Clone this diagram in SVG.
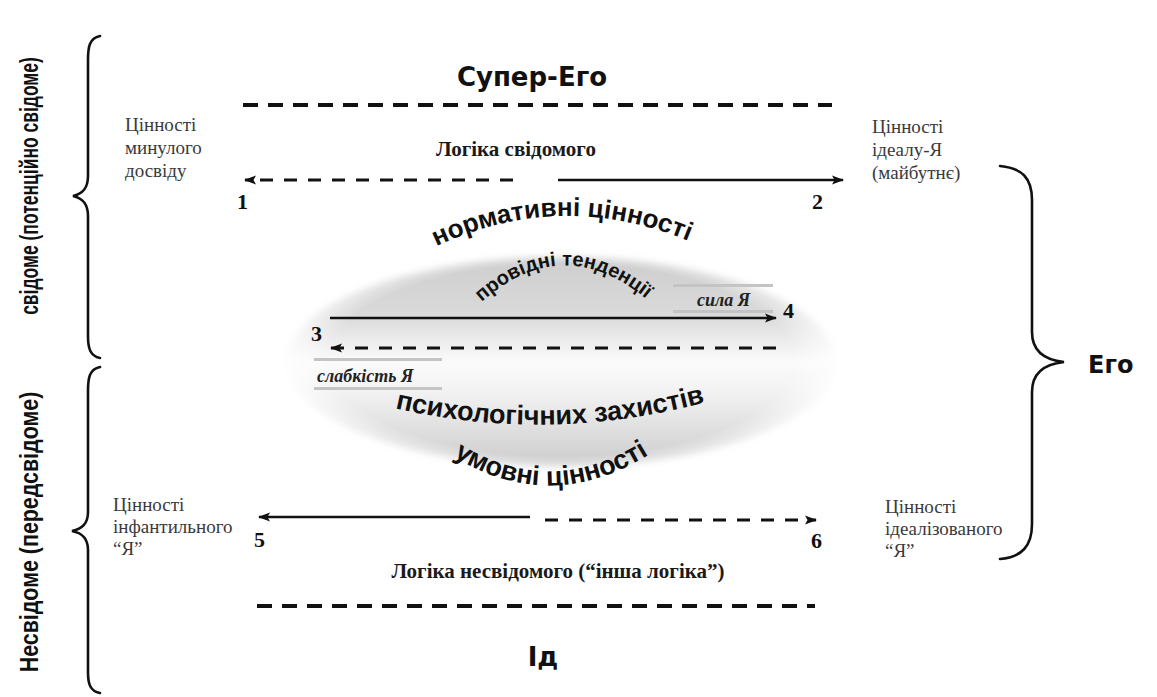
<svg xmlns="http://www.w3.org/2000/svg" width="1157" height="697" viewBox="0 0 1157 697">
  <style>
    .bg { fill: #ffffff; }
    .title { font-family: "DejaVu Sans", "Liberation Sans", sans-serif; font-weight: bold; fill: #111; }
    .note { font-family: "Liberation Serif", "Times New Roman", serif; font-size: 19px; fill: #3a3a3a; }
    .logic { font-family: "Liberation Serif", "Times New Roman", serif; font-size: 21px; font-weight: bold; fill: #1a1a1a; }
    .num { font-family: "Liberation Serif", "Times New Roman", serif; font-size: 22px; font-weight: bold; fill: #111; }
    .arc { font-family: "Liberation Sans", Arial, sans-serif; font-weight: bold; fill: #111; }
    .side { font-family: "Liberation Sans", Arial, sans-serif; font-weight: bold; font-size: 26px; fill: #111; }
    .tag { font-family: "Liberation Serif", "Times New Roman", serif; font-size: 18px; font-style: italic; font-weight: bold; fill: #222; }
    .brace { fill: none; stroke: #111; stroke-width: 2.6; stroke-linecap: round; }
    .border { stroke: #111; stroke-width: 4; stroke-dasharray: 15 10; }
    .solid { stroke: #111; stroke-width: 2.6; fill: none; }
    .dashed { stroke: #111; stroke-width: 3; stroke-dasharray: 13 11; fill: none; }
    .bar { fill: #c4c4c4; }
  </style>
  <defs>
    <marker id="ah" viewBox="0 0 12 10" refX="11" refY="5" markerWidth="12" markerHeight="10" markerUnits="userSpaceOnUse" orient="auto">
      <path d="M0,0.5 L12,5 L0,9.5 L2.5,5 z" fill="#111"/>
    </marker>
    <linearGradient id="ovalShade" x1="0" y1="0" x2="0" y2="1">
      <stop offset="0" stop-color="#cdcdcd"/>
      <stop offset="0.28" stop-color="#dadada"/>
      <stop offset="0.5" stop-color="#fbfbfb"/>
      <stop offset="0.64" stop-color="#f2f2f2"/>
      <stop offset="1" stop-color="#cbcbcb"/>
    </linearGradient>
    <radialGradient id="ovalFade" cx="0.5" cy="0.5" r="0.5">
      <stop offset="0.8" stop-color="#fff"/>
      <stop offset="1" stop-color="#000"/>
    </radialGradient>
    <mask id="ovalMask" maskContentUnits="userSpaceOnUse">
      <ellipse cx="561" cy="360" rx="290" ry="120" fill="url(#ovalFade)"/>
    </mask>
    <filter id="soft" x="-10%" y="-20%" width="120%" height="140%">
      <feGaussianBlur stdDeviation="3.5"/>
    </filter>
    <path id="arcNorm" d="M 425 252 Q 560 183 700 246"/>
    <path id="arcLead" d="M 468 315 Q 562 218 660 311"/>
    <path id="arcDef" d="M 390 407 Q 550 445 710 401"/>
    <path id="arcCond" d="M 436 445 Q 550 527 666 443"/>
  </defs>

  <rect class="bg" x="0" y="0" width="1157" height="697"/>

  <!-- shaded oval of the Ego zone -->
  <g id="oval">
    <ellipse cx="561" cy="362" rx="276" ry="106" fill="url(#ovalShade)" filter="url(#soft)" mask="url(#ovalMask)"/>
  </g>

  <!-- boundary lines -->
  <g id="boundaries">
    <line class="border" x1="243" y1="105" x2="832" y2="105"/>
    <line class="border" x1="257" y1="606" x2="815" y2="606"/>
  </g>

  <g id="superego">
    <text class="title" x="532" y="86" font-size="26" text-anchor="middle">Супер-Его</text>
  </g>
  <g id="id">
    <text class="title" x="543" y="666" font-size="26" text-anchor="middle">Ід</text>
  </g>
  <g id="ego">
    <text class="title" x="1088" y="373" font-size="24">Его</text>
  </g>

  <!-- braces -->
  <g id="braces">
    <path class="brace" d="M 100 36 C 89 38, 88 48, 88 60 L 88 176 C 88 189, 82 194, 73 196 C 82 198, 88 203, 88 216 L 88 336 C 88 348, 90 356, 100 358"/>
    <path class="brace" d="M 100 367 C 89 369, 88 379, 88 391 L 88 512 C 88 524, 82 529, 72 531 C 82 533, 88 538, 88 550 L 88 672 C 88 684, 90 691, 100 693"/>
    <path class="brace" d="M 1000 166 C 1022 168, 1032 178, 1032 200 L 1032 332 C 1032 352, 1045 360, 1064 362 C 1045 364, 1032 372, 1032 392 L 1032 524 C 1032 546, 1022 557, 1000 559"/>
  </g>

  <!-- condensed vertical labels -->
  <g id="conscious-label">
    <text class="side" transform="translate(38,186) rotate(-90) scale(0.68,1)" text-anchor="middle" textLength="379" lengthAdjust="spacingAndGlyphs">свідоме (потенційно свідоме)</text>
  </g>
  <g id="unconscious-label">
    <text class="side" transform="translate(38,532) rotate(-90) scale(0.84,1)" text-anchor="middle" textLength="334" lengthAdjust="spacingAndGlyphs">Несвідоме (передсвідоме)</text>
  </g>

  <!-- value notes at the arrow ends -->
  <g id="past-values">
    <text class="note" x="125" y="131">Цінності</text>
    <text class="note" x="125" y="154">минулого</text>
    <text class="note" x="125" y="177">досвіду</text>
  </g>
  <g id="ideal-values">
    <text class="note" x="872" y="133">Цінності</text>
    <text class="note" x="872" y="156">ідеалу-Я</text>
    <text class="note" x="872" y="179">(майбутнє)</text>
  </g>
  <g id="infantile-values">
    <text class="note" x="113" y="511">Цінності</text>
    <text class="note" x="113" y="533">інфантильного</text>
    <text class="note" x="113" y="555">“Я”</text>
  </g>
  <g id="idealized-values">
    <text class="note" x="885" y="513">Цінності</text>
    <text class="note" x="885" y="535">ідеалізованого</text>
    <text class="note" x="885" y="557">“Я”</text>
  </g>

  <g id="logic-conscious">
    <text class="logic" x="516" y="156" text-anchor="middle">Логіка свідомого</text>
  </g>
  <g id="logic-unconscious">
    <text class="logic" x="558" y="578" text-anchor="middle">Логіка несвідомого (“інша логіка”)</text>
  </g>

  <!-- arched captions -->
  <g id="normative">
    <text class="arc" font-size="26"><textPath href="#arcNorm" startOffset="50%" text-anchor="middle">нормативні цінності</textPath></text>
  </g>
  <g id="leading">
    <text class="arc" font-size="20"><textPath href="#arcLead" startOffset="50%" text-anchor="middle">провідні тенденції</textPath></text>
  </g>
  <g id="defences">
    <text class="arc" font-size="27"><textPath href="#arcDef" startOffset="50%" text-anchor="middle">психологічних захистів</textPath></text>
  </g>
  <g id="conditional">
    <text class="arc" font-size="27"><textPath href="#arcCond" startOffset="50%" text-anchor="middle">умовні цінності</textPath></text>
  </g>

  <!-- strength / weakness tags -->
  <g id="strength">
    <rect class="bar" x="673" y="284" width="100" height="3"/>
    <rect class="bar" x="673" y="310" width="100" height="3"/>
    <text class="tag" x="697" y="306">сила Я</text>
  </g>
  <g id="weakness">
    <rect class="bar" x="314" y="358" width="128" height="3"/>
    <rect class="bar" x="314" y="387" width="128" height="3"/>
    <text class="tag" x="317" y="382">слабкість Я</text>
  </g>

  <!-- point numbers -->
  <g id="points">
    <text class="num" x="237" y="209">1</text>
    <text class="num" x="812" y="209">2</text>
    <text class="num" x="311" y="341">3</text>
    <text class="num" x="783" y="318">4</text>
    <text class="num" x="254" y="547">5</text>
    <text class="num" x="811" y="548">6</text>
  </g>

  <!-- connectors -->
  <g id="connectors">
    <line class="dashed" x1="513" y1="180" x2="245" y2="180" marker-end="url(#ah)"/>
    <line class="solid" x1="558" y1="180" x2="843" y2="180" marker-end="url(#ah)"/>
    <line class="solid" x1="330" y1="318" x2="776" y2="318" marker-end="url(#ah)"/>
    <line class="dashed" x1="776" y1="348" x2="331" y2="348" marker-end="url(#ah)"/>
    <line class="solid" x1="530" y1="517" x2="259" y2="517" marker-end="url(#ah)"/>
    <line class="dashed" x1="545" y1="520" x2="816" y2="520" marker-end="url(#ah)"/>
  </g>
</svg>
